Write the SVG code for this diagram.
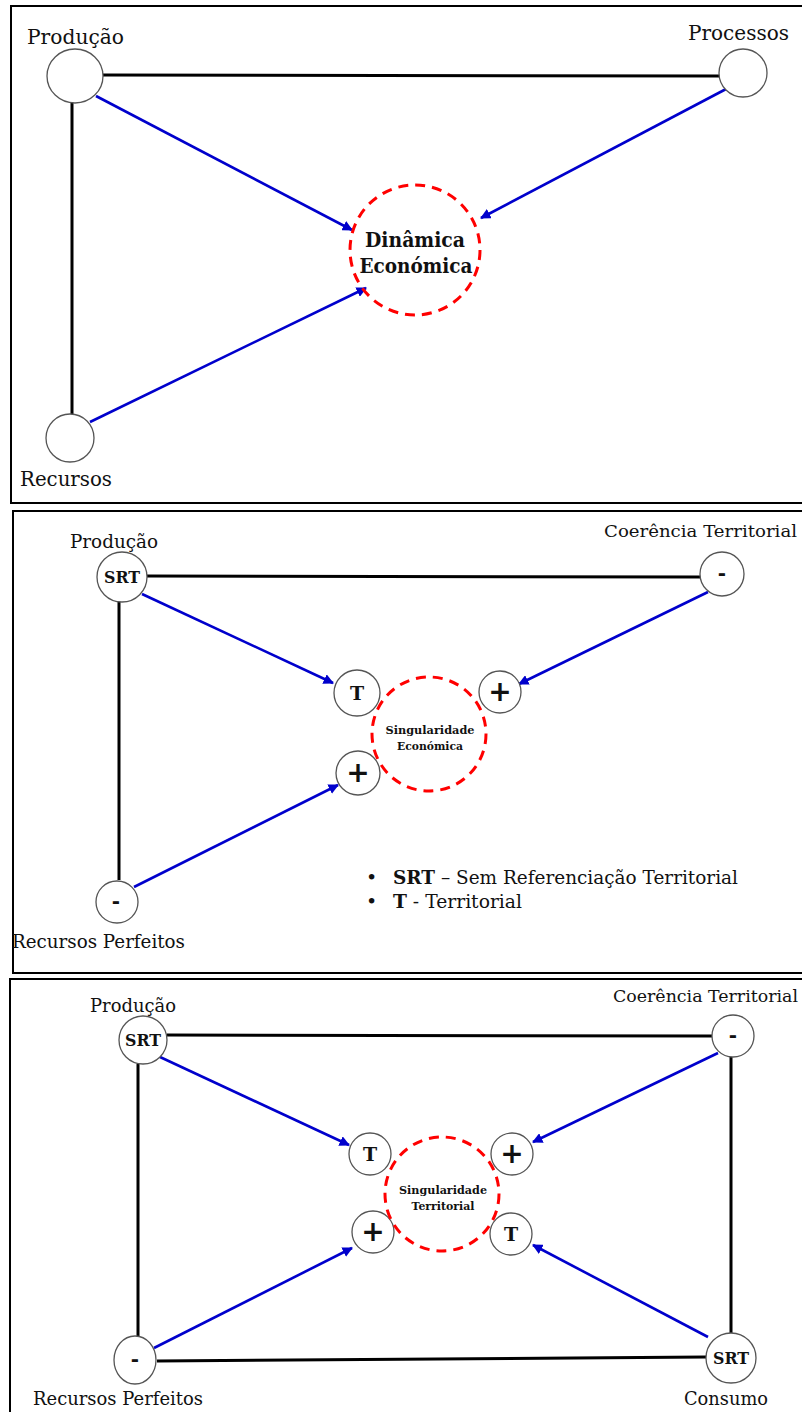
<svg xmlns="http://www.w3.org/2000/svg" width="802" height="1412" viewBox="0 0 802 1412">
<defs>
<marker id="ah" viewBox="0 0 10 10" refX="9" refY="5" markerWidth="4" markerHeight="4" orient="auto" markerUnits="strokeWidth">
<path d="M0,0 L10,5 L0,10 z" fill="#0000cc"/>
</marker>
<style>
.panel{fill:#fff;stroke:#000;stroke-width:2}
.node{fill:#fff;stroke:#555;stroke-width:1.3}
.ring{fill:none;stroke:#ff0000;stroke-width:3;stroke-dasharray:10 7}
.bl{stroke:#000;stroke-width:3;fill:none}
.blue{stroke:#0000cc;stroke-width:2.6;fill:none;marker-end:url(#ah)}
.lbl{font-family:"DejaVu Serif","Liberation Serif",serif;fill:#111}
.b{font-family:"DejaVu Serif","Liberation Serif",serif;font-weight:bold;fill:#111;text-anchor:middle}
.pm{font-family:"DejaVu Sans","Liberation Sans",sans-serif;font-weight:bold;fill:#111;text-anchor:middle}
</style>
</defs>
<rect width="802" height="1412" fill="#fff"/>
<rect class="panel" x="11" y="6" width="800" height="497"/>
<rect class="panel" x="13" y="511" width="800" height="462"/>
<rect class="panel" x="10" y="979" width="800" height="450"/>

<g id="connectors">
<line class="bl" x1="103" y1="75" x2="720" y2="76"/>
<line class="bl" x1="72" y1="102" x2="72" y2="414"/>
<line class="blue" x1="96" y1="96" x2="352" y2="230"/>
<line class="blue" x1="728" y1="88" x2="481" y2="218"/>
<line class="blue" x1="90" y1="422" x2="366" y2="288"/>

<line class="bl" x1="147" y1="576" x2="701" y2="577"/>
<line class="bl" x1="119" y1="601" x2="119" y2="880"/>
<line class="blue" x1="142" y1="594" x2="333" y2="683"/>
<line class="blue" x1="708" y1="592" x2="519" y2="684"/>
<line class="blue" x1="134" y1="887" x2="338" y2="785"/>

<line class="bl" x1="167" y1="1035" x2="712" y2="1036"/>
<line class="bl" x1="138" y1="1064" x2="138" y2="1337"/>
<line class="bl" x1="157" y1="1361" x2="706" y2="1357"/>
<line class="bl" x1="731" y1="1057" x2="731" y2="1333"/>
<line class="blue" x1="160" y1="1057" x2="349" y2="1145"/>
<line class="blue" x1="718" y1="1053" x2="533" y2="1142"/>
<line class="blue" x1="154" y1="1348" x2="352" y2="1248"/>
<line class="blue" x1="708" y1="1337" x2="533" y2="1245"/>
</g>

<g id="p1-producao"><ellipse class="node" cx="75" cy="76" rx="28" ry="27"/><text class="lbl" x="27" y="44" font-size="21" textLength="97" lengthAdjust="spacingAndGlyphs">Produção</text></g>
<g id="p1-processos"><circle class="node" cx="743" cy="73" r="24"/><text class="lbl" x="688" y="40" font-size="21" textLength="101" lengthAdjust="spacingAndGlyphs">Processos</text></g>
<g id="p1-recursos"><circle class="node" cx="70" cy="438" r="24"/><text class="lbl" x="20" y="486" font-size="21" textLength="92" lengthAdjust="spacingAndGlyphs">Recursos</text></g>
<g id="p1-dinamica"><circle class="ring" cx="415" cy="250" r="65"/><text class="b" x="415" y="247" font-size="20" textLength="100" lengthAdjust="spacingAndGlyphs">Dinâmica</text><text class="b" x="416" y="273" font-size="20" textLength="113" lengthAdjust="spacingAndGlyphs">Económica</text></g>

<g id="p2-producao"><circle class="node" cx="122" cy="577" r="25"/><text class="b" x="122" y="583" font-size="17" textLength="36" lengthAdjust="spacingAndGlyphs">SRT</text><text class="lbl" x="70" y="548" font-size="19" textLength="88" lengthAdjust="spacingAndGlyphs">Produção</text></g>
<g id="p2-coerencia"><circle class="node" cx="722" cy="574" r="22"/><text class="pm" x="722" y="580" font-size="20">-</text><text class="lbl" x="604" y="537" font-size="17.5" textLength="193" lengthAdjust="spacingAndGlyphs">Coerência Territorial</text></g>
<g id="p2-recursos"><circle class="node" cx="117" cy="902" r="21"/><text class="pm" x="116" y="908" font-size="20">-</text><text class="lbl" x="12" y="948" font-size="19" textLength="173" lengthAdjust="spacingAndGlyphs">Recursos Perfeitos</text></g>
<g id="p2-t"><circle class="node" cx="357" cy="693" r="23"/><text class="b" x="357" y="700" font-size="19">T</text></g>
<g id="p2-plus1"><circle class="node" cx="500" cy="692" r="21"/><text class="pm" x="500" y="701" font-size="28" font-weight="normal">+</text></g>
<g id="p2-plus2"><circle class="node" cx="358" cy="773" r="22"/><text class="pm" x="358" y="782" font-size="28" font-weight="normal">+</text></g>
<g id="p2-singular"><circle class="ring" cx="429" cy="734" r="57"/><text class="b" x="430" y="734" font-size="11.5" textLength="89" lengthAdjust="spacingAndGlyphs">Singularidade</text><text class="b" x="430" y="750" font-size="11.5" textLength="66" lengthAdjust="spacingAndGlyphs">Económica</text></g>
<g id="p2-legend">
<text class="lbl" x="366" y="884" font-size="19">•</text>
<text class="lbl" x="393" y="884" font-size="19" textLength="345" lengthAdjust="spacingAndGlyphs"><tspan font-weight="bold">SRT</tspan> – Sem Referenciação Territorial</text>
<text class="lbl" x="366" y="908" font-size="19">•</text>
<text class="lbl" x="393" y="908" font-size="19" textLength="129" lengthAdjust="spacingAndGlyphs"><tspan font-weight="bold">T</tspan> - Territorial</text>
</g>

<g id="p3-producao"><circle class="node" cx="143" cy="1040" r="24"/><text class="b" x="143" y="1046" font-size="17" textLength="36" lengthAdjust="spacingAndGlyphs">SRT</text><text class="lbl" x="90" y="1012" font-size="19" textLength="86" lengthAdjust="spacingAndGlyphs">Produção</text></g>
<g id="p3-coerencia"><circle class="node" cx="733" cy="1036" r="21"/><text class="pm" x="733" y="1042" font-size="20">-</text><text class="lbl" x="613" y="1002" font-size="17" textLength="185" lengthAdjust="spacingAndGlyphs">Coerência Territorial</text></g>
<g id="p3-recursos"><ellipse class="node" cx="135" cy="1360" rx="21" ry="24"/><text class="pm" x="135" y="1366" font-size="20">-</text><text class="lbl" x="33" y="1405" font-size="19" textLength="170" lengthAdjust="spacingAndGlyphs">Recursos Perfeitos</text></g>
<g id="p3-consumo"><ellipse class="node" cx="731" cy="1358" rx="25" ry="25"/><text class="b" x="731" y="1364" font-size="17" textLength="36" lengthAdjust="spacingAndGlyphs">SRT</text><text class="lbl" x="684" y="1405" font-size="19" textLength="84" lengthAdjust="spacingAndGlyphs">Consumo</text></g>
<g id="p3-t1"><circle class="node" cx="370" cy="1154" r="21"/><text class="b" x="370" y="1161" font-size="19">T</text></g>
<g id="p3-plus1"><circle class="node" cx="512" cy="1154" r="21"/><text class="pm" x="512" y="1163" font-size="28" font-weight="normal">+</text></g>
<g id="p3-plus2"><circle class="node" cx="373" cy="1232" r="21"/><text class="pm" x="373" y="1241" font-size="28" font-weight="normal">+</text></g>
<g id="p3-t2"><circle class="node" cx="511" cy="1234" r="21"/><text class="b" x="511" y="1241" font-size="19">T</text></g>
<g id="p3-singular"><circle class="ring" cx="442" cy="1194" r="57"/><text class="b" x="443" y="1194" font-size="11.5" textLength="88" lengthAdjust="spacingAndGlyphs">Singularidade</text><text class="b" x="443" y="1210" font-size="11.5" textLength="63" lengthAdjust="spacingAndGlyphs">Territorial</text></g>
</svg>
